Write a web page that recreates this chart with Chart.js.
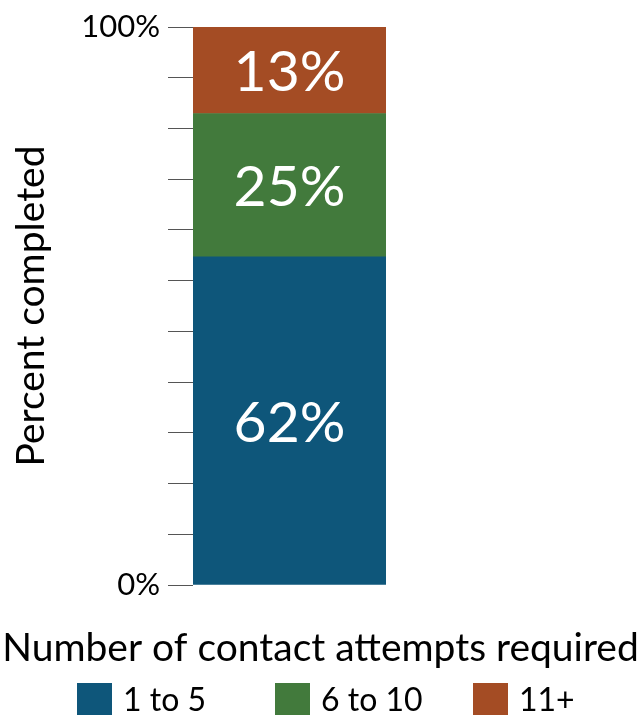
<!DOCTYPE html>
<html>
<head>
<meta charset="utf-8">
<script src="https://cdn.jsdelivr.net/npm/chart.js@4.4.1/dist/chart.umd.min.js"></script>
<style>
  html, body { margin: 0; padding: 0; background: #fff; }
  #wrap { width: 641px; height: 715px; position: relative; }
</style>
</head>
<body>
<div id="wrap"><canvas id="attempts-chart"></canvas></div>
<script>
// values
const categories = ['All cases'];
const seriesNames = ['1 to 5', '6 to 10', '11+'];
const heights1to5 = [58.8];
const heights6to10 = [25.7];
const heights11plus = [15.5];
const shownPercents = [62, 25, 13];
const yTickLabels = ['0%', '100%'];
const seriesColors = ['#0E567A', '#427A3C', '#A44C24'];

const FONT = 'Lato';

// white percent text in the middle of each segment
const segmentLabels = {
    id: 'segmentLabels',
    afterDatasetsDraw(chart) {
        const ctx = chart.ctx;
        ctx.save();
        ctx.fillStyle = '#fff';
        ctx.font = '57px ' + FONT;
        ctx.textAlign = 'center';
        ctx.textBaseline = 'alphabetic';
        chart.data.datasets.forEach(function(ds, i) {
            const bar = chart.getDatasetMeta(i).data[0];
            const p = bar.getProps(['x', 'y', 'base'], true);
            const mid = (p.y + p.base) / 2;
            ctx.fillText(shownPercents[i] + '%', p.x, mid + 21);
        });
        ctx.restore();
    }
};

// legend with equal width slots, like the original
const slotLegend = {
    id: 'slotLegend',
    afterDraw(chart) {
        const ctx = chart.ctx;
        ctx.save();
        ctx.font = '32px ' + FONT;
        ctx.textBaseline = 'alphabetic';
        chart.data.datasets.forEach(function(ds, i) {
            const left = 77 + i * 198;
            ctx.fillStyle = ds.backgroundColor;
            ctx.fillRect(left, 683, 35, 32);
            ctx.fillStyle = '#000';
            ctx.fillText(ds.label, left + 46, 711);
        });
        ctx.restore();
    }
};

document.addEventListener('DOMContentLoaded', function() {
    const ctx = document.getElementById('attempts-chart');
    const seriesData = [heights1to5, heights6to10, heights11plus];

    new Chart(ctx, {
        type: 'bar',
        data: {
            labels: categories,
            datasets: seriesNames.map(function(name, i) {
                return {
                    label: name,
                    data: seriesData[i],
                    backgroundColor: seriesColors[i],
                    borderWidth: 0,
                    barPercentage: 1,
                    categoryPercentage: 1
                };
            })
        },
        options: {
            responsive: true,
            maintainAspectRatio: false,
            animation: false,
            layout: {
                padding: { top: 27, left: 0, right: 0, bottom: 41 }
            },
            plugins: {
                legend: { display: false },
                tooltip: { enabled: false },
                title: {
                    display: true,
                    position: 'bottom',
                    text: 'Number of contact attempts required',
                    color: '#000',
                    font: { family: FONT, size: 39, weight: 'normal' },
                    padding: { top: 39.6, bottom: 2.6 }
                }
            },
            scales: {
                x: {
                    type: 'category',
                    stacked: true,
                    display: false
                },
                y: {
                    stacked: true,
                    min: 0,
                    max: 100,
                    border: { display: false },
                    grid: {
                        drawOnChartArea: false,
                        drawTicks: true,
                        tickLength: 25,
                        color: '#555',
                        lineWidth: 1
                    },
                    ticks: {
                        count: 12,
                        padding: 8,
                        color: '#000',
                        font: { family: FONT, size: 31 },
                        callback: function(value, index, ticks) {
                            if (index === 0) return yTickLabels[0];
                            if (index === ticks.length - 1) return yTickLabels[1];
                            return '';
                        }
                    },
                    title: {
                        display: true,
                        text: 'Percent completed',
                        color: '#000',
                        font: { family: FONT, size: 39 },
                        padding: { top: 8, bottom: 0 }
                    },
                    afterFit: function(scale) { scale.width = 193; }
                },
                spacer: {
                    axis: 'y',
                    position: 'right',
                    display: true,
                    border: { display: false },
                    grid: { display: false },
                    ticks: { display: false },
                    afterFit: function(scale) { scale.width = 255; }
                }
            }
        },
        plugins: [segmentLabels, slotLegend]
    });
});
</script>
</body>
</html>
